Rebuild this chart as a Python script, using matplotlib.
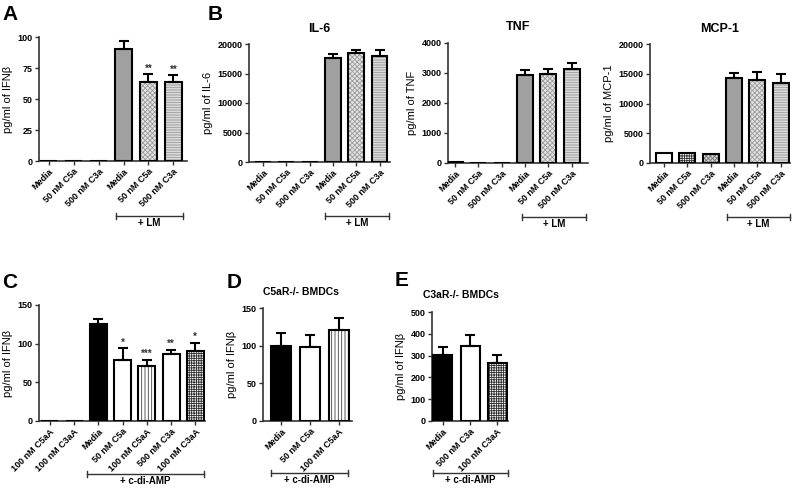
import matplotlib
matplotlib.use("Agg")
import matplotlib.pyplot as plt
import numpy as np
from matplotlib.transforms import blended_transform_factory

plt.rcParams["font.family"] = ["Liberation Sans", "DejaVu Sans"]
plt.rcParams["hatch.linewidth"] = 0.6

W, H = 800, 493

# ── Data ──────────────────────────────────────────────────────────────────────
LM_LABELS = ["Media", "50 nM C5a", "500 nM C3a", "Media", "50 nM C5a", "500 nM C3a"]

A_VALS = [0, 0, 0, 90, 64, 63.5]
A_ERR = [0, 0, 0, 7, 6, 5.5]
A_STARS = ["", "", "", "", "**", "**"]

IL6_VALS = [0, 0, 0, 17600, 18400, 17900]
IL6_ERR = [0, 0, 0, 700, 650, 1050]

TNF_VALS = [25, 5, 5, 2920, 2960, 3130]
TNF_ERR = [0, 0, 0, 180, 190, 200]

MCP_VALS = [1730, 1730, 1460, 14230, 13950, 13500]
MCP_ERR = [0, 0, 0, 950, 1400, 1460]

C_LABELS = ["100 nM C5aA", "100 nM C3aA", "Media", "50 nM C5a",
            "100 nM C5aA", "500 nM C3a", "100 nM C3aA"]
C_VALS = [0, 0, 126, 79, 71, 86, 91]
C_ERR = [0, 0, 6, 15, 8, 6, 10]
C_STARS = ["", "", "", "*", "***", "**", "*"]

D_LABELS = ["Media", "50 nM C5a", "100 nM C5aA"]
D_VALS = [100, 98, 121]
D_ERR = [17, 16, 16]

E_LABELS = ["Media", "500 nM C3a", "100 nM C3aA"]
E_VALS = [305, 345, 265]
E_ERR = [35, 50, 37]

# ── Bar styles: (face, hatch, hatch colour) ───────────────────────────────────
WHITE = ("white", None, None)
GREY = ("#a0a0a0", None, None)
BLACK = ("black", None, None)
CHECK = ("#e4e4e4", "xxxxxxx", "#9a9a9a")
HLINE = ("#f0f0f0", "----------", "#9a9a9a")
GRID = ("white", "+++++++", "#303030")
LIGHTCHECK = ("#d8d8d8", "xxxxxxxx", "#707070")
VLINE = ("white", "|||||", "#404040")

LM_STYLES = [WHITE, WHITE, WHITE, GREY, CHECK, HLINE]
MCP_STYLES = [WHITE, GRID, LIGHTCHECK, GREY, CHECK, HLINE]
C_STYLES = [WHITE, WHITE, BLACK, WHITE, VLINE, WHITE, GRID]
D_STYLES = [BLACK, WHITE, VLINE]
E_STYLES = [BLACK, WHITE, GRID]


def px_rect(l, t, r, b):
    return [l / W, 1 - b / H, (r - l) / W, (b - t) / H]


def panel(fig, rect, labels, vals, errs, styles, ylim, yticks, ylabel,
          xlim, width=0.68, title=None, stars=None):
    ax = fig.add_axes(px_rect(*rect))
    x = np.arange(len(vals))
    for xi, v, st in zip(x, vals, styles):
        face, hatch, hcol = st
        ax.bar(xi, v, width=width, color=face, linewidth=0, zorder=2)
        if hatch:
            ax.bar(xi, v, width=width, color=face, edgecolor=hcol,
                   hatch=hatch, linewidth=0, zorder=2)
        ax.bar(xi, v, width=width, fill=False, edgecolor="black",
               linewidth=1.5, zorder=3)
    errs = np.array(errs, dtype=float)
    vals = np.array(vals, dtype=float)
    m = errs > 0
    ax.errorbar(x[m], vals[m], yerr=[np.zeros(m.sum()), errs[m]], fmt="none",
                ecolor="black", elinewidth=1.5, capsize=3.5, capthick=1.5,
                zorder=4)
    if stars:
        for xi, v, e, s in zip(x, vals, errs, stars):
            if s:
                ax.text(xi, v + e + ylim[1] * 0.005, s, ha="center", va="bottom",
                        fontsize=7, fontweight="bold", color="#333333")
    ax.set_xlim(*xlim)
    ax.set_ylim(*ylim)
    ax.set_yticks(yticks)
    ax.set_xticks(x)
    ax.set_xticklabels(labels, rotation=45, ha="right", rotation_mode="anchor",
                       fontsize=6.5, fontweight="bold")
    for lab in ax.get_yticklabels():
        lab.set_fontweight("bold")
        lab.set_fontsize(6.5)
    ax.tick_params(direction="out", length=3, width=1, colors="#333333",
                   labelcolor="black", pad=1.5)
    for s in ["top", "right"]:
        ax.spines[s].set_visible(False)
    for s in ["left", "bottom"]:
        ax.spines[s].set_linewidth(1.2)
        ax.spines[s].set_color("#333333")
    ax.set_ylabel(ylabel, fontsize=8, labelpad=3)
    if title:
        ax.set_title(title, fontsize=9, fontweight="bold", pad=9)
    ax.patch.set_alpha(0)
    return ax


def bracket(fig, ax, x0, x1, y_px, text):
    tr = blended_transform_factory(ax.transData, fig.transFigure)
    y = 1 - y_px / H
    dy = 3 / H
    ax.plot([x0, x1], [y, y], color="#333333", lw=1, transform=tr, clip_on=False)
    for xx in (x0, x1):
        ax.plot([xx, xx], [y - dy, y + dy], color="#333333", lw=1,
                transform=tr, clip_on=False)
    ax.text((x0 + x1) / 2, y - 2 / H, text, transform=tr, ha="center",
            va="top", fontsize=7, fontweight="bold")


fig = plt.figure(figsize=(W / 100, H / 100), dpi=100, facecolor="white")

# ── Row 1 ─────────────────────────────────────────────────────────────────────
axA = panel(fig, (39, 37, 187, 161), LM_LABELS, A_VALS, A_ERR, LM_STYLES,
            (0, 100), [0, 25, 50, 75, 100], "pg/ml of IFNβ", (-0.4, 5.55),
            stars=A_STARS)
bracket(fig, axA, 2.68, 5.4, 216, "+ LM")

axIL = panel(fig, (249, 44, 390, 162), LM_LABELS, IL6_VALS, IL6_ERR, LM_STYLES,
             (0, 20000), [0, 5000, 10000, 15000, 20000], "pg/ml of IL-6",
             (-0.6, 5.45), title="IL-6")
bracket(fig, axIL, 2.65, 5.4, 216, "+ LM")

axT = panel(fig, (448, 43, 588, 163), LM_LABELS, TNF_VALS, TNF_ERR, LM_STYLES,
            (0, 4000), [0, 1000, 2000, 3000, 4000], "pg/ml of TNF",
            (-0.3, 5.7), title="TNF")
bracket(fig, axT, 2.85, 5.62, 217, "+ LM")

axM = panel(fig, (650, 44, 790, 163), LM_LABELS, MCP_VALS, MCP_ERR, MCP_STYLES,
            (0, 20000), [0, 5000, 10000, 15000, 20000], "pg/ml of MCP-1",
            (-0.6, 5.4), title="MCP-1")
bracket(fig, axM, 2.7, 5.4, 217, "+ LM")

# ── Row 2 ─────────────────────────────────────────────────────────────────────
axC = panel(fig, (39, 305, 205, 421), C_LABELS, C_VALS, C_ERR, C_STYLES,
            (0, 150), [0, 50, 100, 150], "pg/ml of IFNβ", (-0.45, 6.4),
            width=0.7, stars=C_STARS)
bracket(fig, axC, 1.53, 6.36, 474, "+ c-di-AMP")

axD = panel(fig, (263, 308, 352, 421), D_LABELS, D_VALS, D_ERR, D_STYLES,
            (0, 150), [0, 50, 100, 150], "pg/ml of IFNβ", (-0.62, 2.45),
            width=0.72)
bracket(fig, axD, -0.35, 2.3, 473, "+ c-di-AMP")

axE = panel(fig, (432, 312, 508, 421), E_LABELS, E_VALS, E_ERR, E_STYLES,
            (0, 500), [0, 100, 200, 300, 400, 500], "pg/ml of IFNβ",
            (-0.4, 2.4), width=0.7)
bracket(fig, axE, -0.37, 2.4, 473, "+ c-di-AMP")

# knockout titles sit a bit off-centre and smaller
fig.text(301 / W, 1 - 292 / H, "C5aR-/- BMDCs", fontsize=7.5, fontweight="bold",
         ha="center", va="center")
fig.text(461 / W, 1 - 295 / H, "C3aR-/- BMDCs", fontsize=7.5, fontweight="bold",
         ha="center", va="center")

# ── Panel letters ─────────────────────────────────────────────────────────────
for letter, px, py in [("A", 10, 15), ("B", 215, 15), ("C", 10, 282),
                       ("D", 234, 282), ("E", 402, 280)]:
    fig.text(px / W, 1 - py / H, letter, fontsize=15, fontweight="bold",
             ha="center", va="center")

fig.savefig("out.png", dpi=100, facecolor="white")
